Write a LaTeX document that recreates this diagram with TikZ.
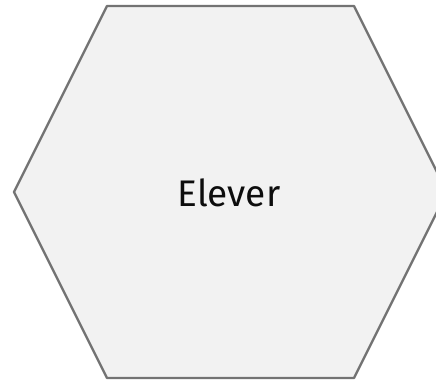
\documentclass[tikz,border=0pt]{standalone}
\usepackage{fontspec}
\setmainfont{Fira Sans}
\begin{document}
\begin{tikzpicture}[x=1pt,y=-1pt,
  hexstyle/.style={draw=black!55,fill=black!5,line width=2.4pt,line join=round},
  labelstyle/.style={font=\fontsize{37}{40}\selectfont,text=black!95,inner sep=0pt}]
\useasboundingbox (0,0) rectangle (436,380);
\clip (0,0) rectangle (436,380);
\draw[hexstyle] (14,192) -- (107,6) -- (354,6) -- (447,192) -- (354,378) -- (107,378) -- cycle;
\node[labelstyle] (lbl) at (229,193) {Elever};
\end{tikzpicture}
\end{document}
